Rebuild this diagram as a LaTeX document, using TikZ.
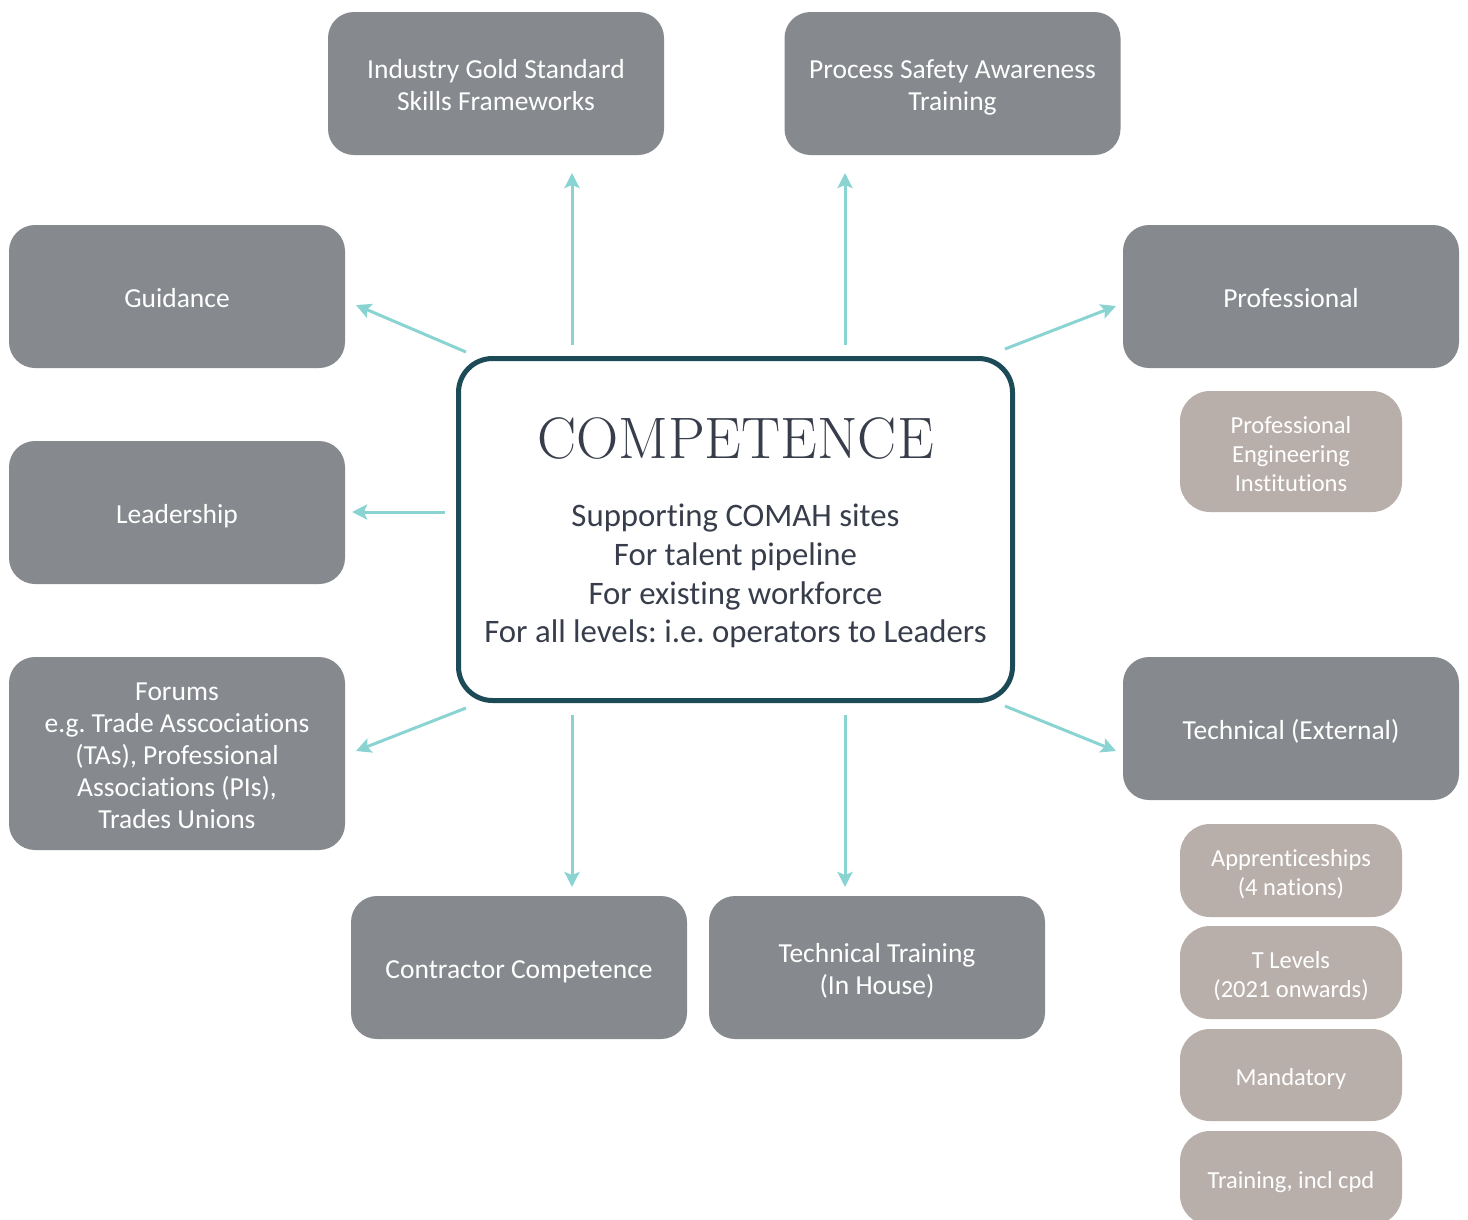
\documentclass[tikz,border=0pt]{standalone}
\usepackage{fontspec}
\usepackage{graphicx}
\newfontfamily\bodyfont[Ligatures=NoCommon]{Carlito}
\usetikzlibrary{arrows.meta}
\definecolor{boxgrey}{RGB}{134,137,141}
\definecolor{boxtaupe}{RGB}{184,175,170}
\definecolor{arrteal}{RGB}{137,212,210}
\definecolor{darkteal}{RGB}{28,74,86}
\definecolor{titlecol}{RGB}{55,61,74}
\newcommand{\boxtext}[1]{\raisebox{-5pt}[\height][\depth]{\begin{tabular}{@{}c@{}}#1\end{tabular}}}
\frenchspacing
\begin{document}
\begin{tikzpicture}[x=1pt,y=-1pt,
  gbox/.style={fill=boxgrey, rounded corners=26pt, minimum width=336pt, minimum height=143pt, text=white, font=\bodyfont\fontsize{27.5}{32}\selectfont, inner sep=0pt, outer sep=0pt},
  tbox/.style={fill=boxtaupe, rounded corners=30pt, minimum width=222pt, text=white, font=\bodyfont\fontsize{24.5}{29}\selectfont, inner sep=0pt, outer sep=0pt},
  arr/.style={draw=arrteal, line width=3pt, -{Stealth[length=15pt,width=15pt,inset=3pt]}},
]
\useasboundingbox (0,0) rectangle (1468,1219);
\begin{scope}
\clip (0,0) rectangle (1468,1219);
\node[gbox] (igs) at (496,83.5) {\boxtext{Industry Gold Standard\\Skills Frameworks}};
\node[gbox] (psa) at (952.5,83.5) {\boxtext{Process Safety Awareness\\Training}};
\node[gbox] (gui) at (177,296.5) {\boxtext{Guidance}};
\node[gbox] (pro) at (1291,296.5) {\boxtext{Professional}};
\node[tbox, minimum height=121pt] (pei) at (1291,451.5) {\boxtext{Professional\\Engineering\\Institutions}};
\node[gbox] (lea) at (177,512.5) {\boxtext{Leadership}};
\node[gbox, minimum height=193pt] (for) at (177,753.5) {\boxtext{Forums\\e.g. Trade Asscociations\\(TAs), Professional\\Associations (PIs),\\Trades Unions}};
\node[gbox] (tex) at (1291,728.5) {\boxtext{Technical (External)}};
\node[tbox, minimum height=93pt] (app) at (1291,870.5) {\boxtext{Apprenticeships\\(4 nations)}};
\node[tbox, minimum height=93pt] (tlv) at (1291,972.5) {\boxtext{T Levels\\(2021 onwards)}};
\node[tbox, minimum height=92pt] (man) at (1291,1075) {\boxtext{Mandatory}};
\node[tbox, minimum height=94pt] (trn) at (1291,1178) {\boxtext{Training, incl cpd}};
\node[gbox] (con) at (519,967.5) {\boxtext{Contractor Competence}};
\node[gbox] (tti) at (877,967.5) {\boxtext{Technical Training\\(In House)}};
\end{scope}

\node[draw=darkteal, line width=5pt, rounded corners=34pt, minimum width=554pt, minimum height=342pt, inner sep=0pt, outer sep=0pt] (cen) at (735.5,529.5) {};
\node[text=titlecol, font=\fontsize{58.5}{60}\selectfont, anchor=base, inner sep=0pt] (tit) at (735.5,458) {COMPETENCE};
\node[text=titlecol, font=\bodyfont\fontsize{32.8}{38.7}\selectfont, inner sep=0pt] (body) at (735.5,572) {\boxtext{Supporting COMAH sites\\For talent pipeline\\For existing workforce\\For all levels: i.e. operators to Leaders}};

\coordinate (u1s) at (572,345); \coordinate (u1e) at (572,173);
\coordinate (u2s) at (845,345); \coordinate (u2e) at (845,173);
\coordinate (gs) at (466,352); \coordinate (ge) at (356,305);
\coordinate (ps) at (1005,349); \coordinate (pe) at (1116,306);
\coordinate (ls) at (445,512); \coordinate (le) at (352,512);
\coordinate (fs) at (466,708); \coordinate (fe) at (356,751);
\coordinate (ts) at (1005,706); \coordinate (te) at (1116,751);
\coordinate (d1s) at (572,715); \coordinate (d1e) at (572,887);
\coordinate (d2s) at (845,715); \coordinate (d2e) at (845,887);
\draw[arr] (u1s) -- (u1e);
\draw[arr] (u2s) -- (u2e);
\draw[arr] (gs) -- (ge);
\draw[arr] (ps) -- (pe);
\draw[arr] (ls) -- (le);
\draw[arr] (fs) -- (fe);
\draw[arr] (ts) -- (te);
\draw[arr] (d1s) -- (d1e);
\draw[arr] (d2s) -- (d2e);
\end{tikzpicture}
\end{document}
